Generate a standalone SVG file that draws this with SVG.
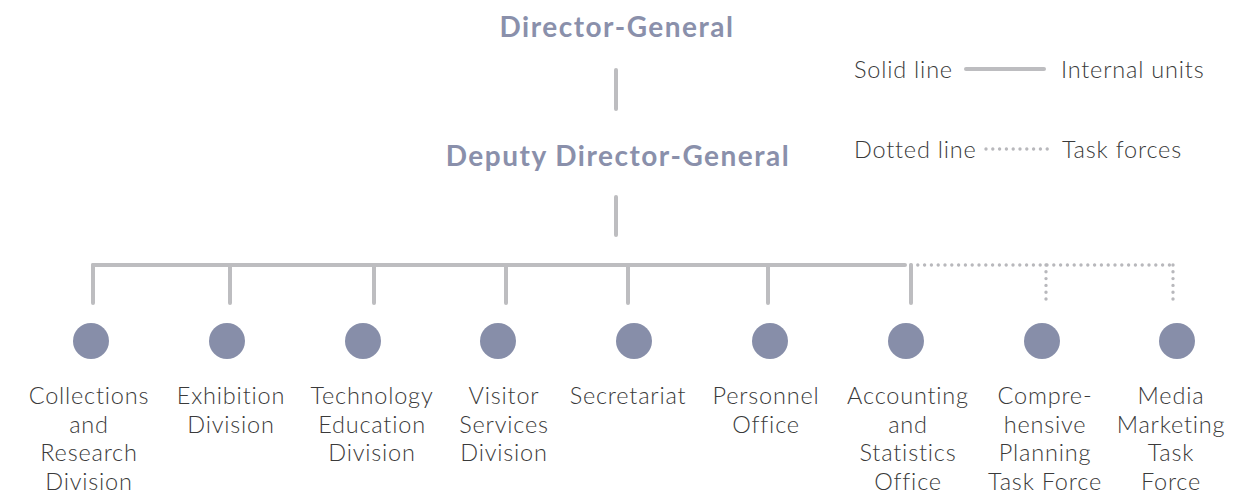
<svg xmlns="http://www.w3.org/2000/svg" width="1256" height="495" viewBox="0 0 1256 495">
<style>
.head{font-family:Lato,"Liberation Sans",sans-serif;font-weight:700;font-size:28px;letter-spacing:1.5px;fill:#8a90ab;text-anchor:middle}
.lbl{font-family:Lato,"Liberation Sans",sans-serif;font-weight:300;font-size:23.5px;letter-spacing:0.8px;fill:#3a3a3a;text-anchor:middle}
.leg{font-family:Lato,"Liberation Sans",sans-serif;font-weight:300;font-size:23.5px;letter-spacing:0.8px;fill:#3a3a3a}
.solid{stroke:#bdbdc0;stroke-width:4;stroke-linecap:round;fill:none}
.dot{stroke:#b8b8bc;stroke-width:3.4;stroke-linecap:round;stroke-dasharray:0 6.8;fill:none}
.node{fill:#878ea9}
</style>
<rect width="1256" height="495" fill="#ffffff"/>
<g id="connectors">
<line class="solid" x1="616" y1="70" x2="616" y2="109"/>
<line class="solid" x1="616" y1="197" x2="616" y2="235"/>
<line class="solid" x1="93" y1="265" x2="905" y2="265"/>
<line class="dot" x1="911" y1="265" x2="1173" y2="265"/>
<line class="solid" x1="93" y1="265" x2="93" y2="303"/>
<line class="solid" x1="230" y1="265" x2="230" y2="303"/>
<line class="solid" x1="374" y1="265" x2="374" y2="303"/>
<line class="solid" x1="506" y1="265" x2="506" y2="303"/>
<line class="solid" x1="628" y1="265" x2="628" y2="303"/>
<line class="solid" x1="768" y1="265" x2="768" y2="303"/>
<line class="solid" x1="911" y1="265" x2="911" y2="303"/>
<line class="dot" x1="1046" y1="265" x2="1046" y2="302"/>
<line class="dot" x1="1173" y1="265" x2="1173" y2="302"/>
</g>
<g id="director-general"><text class="head" x="617" y="37">Director-General</text></g>
<g id="deputy-director-general"><text class="head" x="618" y="166">Deputy Director-General</text></g>
<g id="legend">
<text class="leg" x="854" y="78">Solid line</text>
<line class="solid" x1="966" y1="69" x2="1044" y2="69"/>
<text class="leg" x="1061" y="78">Internal units</text>
<text class="leg" x="854" y="158">Dotted line</text>
<line class="dot" x1="986" y1="149" x2="1052" y2="149"/>
<text class="leg" x="1062" y="158">Task forces</text>
</g>
<g id="collections">
<circle class="node" cx="91" cy="341" r="18"/>
<text class="lbl" x="89" y="404">Collections<tspan x="89" dy="28.7">and</tspan><tspan x="89" dy="28.7">Research</tspan><tspan x="89" dy="28.7">Division</tspan></text>
</g>
<g id="exhibition">
<circle class="node" cx="227" cy="341" r="18"/>
<text class="lbl" x="231" y="404">Exhibition<tspan x="231" dy="28.7">Division</tspan></text>
</g>
<g id="technology">
<circle class="node" cx="363" cy="341" r="18"/>
<text class="lbl" x="372" y="404">Technology<tspan x="372" dy="28.7">Education</tspan><tspan x="372" dy="28.7">Division</tspan></text>
</g>
<g id="visitor">
<circle class="node" cx="498" cy="341" r="18"/>
<text class="lbl" x="504" y="404">Visitor<tspan x="504" dy="28.7">Services</tspan><tspan x="504" dy="28.7">Division</tspan></text>
</g>
<g id="secretariat">
<circle class="node" cx="634" cy="341" r="18"/>
<text class="lbl" x="628" y="404">Secretariat</text>
</g>
<g id="personnel">
<circle class="node" cx="770" cy="341" r="18"/>
<text class="lbl" x="766" y="404">Personnel<tspan x="766" dy="28.7">Office</tspan></text>
</g>
<g id="accounting">
<circle class="node" cx="906" cy="341" r="18"/>
<text class="lbl" x="908" y="404">Accounting<tspan x="908" dy="28.7">and</tspan><tspan x="908" dy="28.7">Statistics</tspan><tspan x="908" dy="28.7">Office</tspan></text>
</g>
<g id="comprehensive-planning">
<circle class="node" cx="1042" cy="341" r="18"/>
<text class="lbl" x="1045" y="404">Compre-<tspan x="1045" dy="28.7">hensive</tspan><tspan x="1045" dy="28.7">Planning</tspan><tspan x="1045" dy="28.7">Task Force</tspan></text>
</g>
<g id="media-marketing">
<circle class="node" cx="1177" cy="341" r="18"/>
<text class="lbl" x="1171" y="404">Media<tspan x="1171" dy="28.7">Marketing</tspan><tspan x="1171" dy="28.7">Task</tspan><tspan x="1171" dy="28.7">Force</tspan></text>
</g>
</svg>
